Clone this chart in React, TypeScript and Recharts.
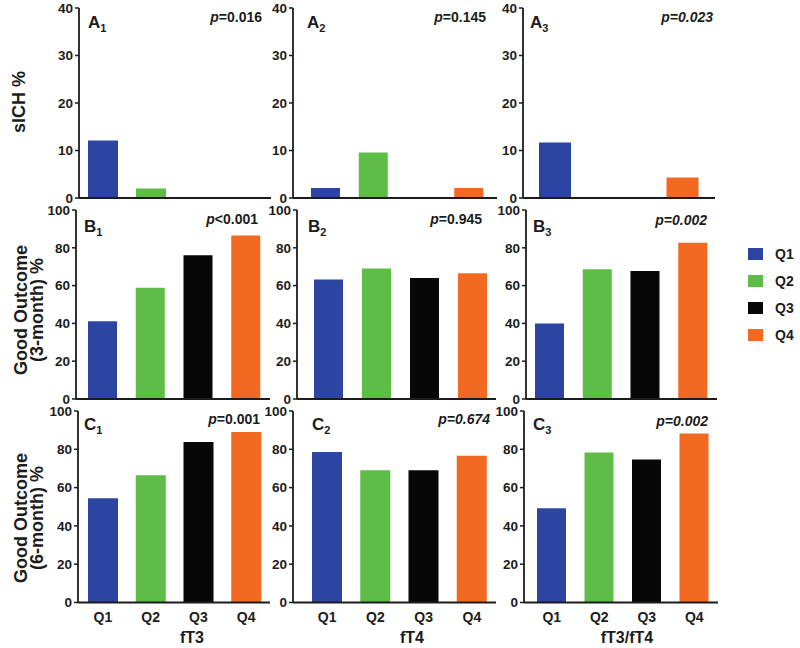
import React from 'react'
import { BarChart, Bar, XAxis, YAxis, Cell } from 'recharts'

// quartile labels and colours
const quartiles = ['Q1', 'Q2', 'Q3', 'Q4']
const quartileColors = ['#2c45a2', '#5dbd47', '#070707', '#f26a21']

// sICH %
const sichFT3 = [12.1, 2.0, 0, 0]
const sichFT4 = [2.1, 9.6, 0, 2.1]
const sichRatio = [11.7, 0, 0, 4.3]

// good outcome 3-month %
const good3FT3 = [41.2, 58.8, 76.0, 86.5]
const good3FT4 = [63.2, 69.0, 64.0, 66.6]
const good3Ratio = [40.0, 68.6, 67.7, 82.7]

// good outcome 6-month %
const good6FT3 = [54.4, 66.5, 83.8, 89.0]
const good6FT4 = [78.6, 69.1, 69.1, 76.6]
const good6Ratio = [49.2, 78.3, 74.7, 88.2]

const sichTicks = [0, 10, 20, 30, 40]
const pctTicks = [0, 20, 40, 60, 80, 100]

const pLabels = ['p=0.016', 'p=0.145', 'p=0.023', 'p<0.001', 'p=0.945', 'p=0.002', 'p=0.001', 'p=0.674', 'p=0.002']
const panelLetters = ['A', 'B', 'C']
const xTitles = ['fT3', 'fT4', 'fT3/fT4']

const FONT = '"Liberation Sans", Arial, sans-serif'
const INK = '#1c1c1c'

interface PanelProps {
  values: number[]
  axisX: number
  endX: number
  yTop: number
  yBottom: number
  max: number
  ticks: number[]
  padL: number
  padR: number
  barSize: number
  bottomRow?: boolean
}

function Panel({ values, axisX, endX, yTop, yBottom, max, ticks, padL, padR, barSize, bottomRow }: PanelProps) {
  const yw = 45
  const mt = 8
  // extra room under rows A and B so the "0" label is not clipped
  const mb = bottomRow ? 2 : 9
  const xh = bottomRow ? 40 : 1
  const left = axisX - yw
  const top = yTop - mt
  const height = yBottom - yTop + mt + xh + mb
  const width = endX - left + 2
  const data = quartiles.map((q, i) => ({ q, v: values[i] }))

  return (
    <div style={{ position: 'absolute', left, top }}>
      <BarChart width={width} height={height} data={data} margin={{ top: mt, right: 2, left: 0, bottom: mb }} barSize={barSize}>
        <XAxis
          dataKey="q"
          interval={0}
          padding={{ left: padL, right: padR }}
          axisLine={{ stroke: INK, strokeWidth: 1.8 }}
          tickLine={false}
          tickSize={4}
          tickMargin={6}
          height={xh}
          tick={bottomRow ? { fill: INK, fontSize: 14, fontWeight: 700, fontFamily: FONT } : false}
        />
        <YAxis
          width={yw}
          domain={[0, max]}
          ticks={ticks}
          interval={0}
          axisLine={{ stroke: INK, strokeWidth: 1.8 }}
          tickLine={{ stroke: INK, strokeWidth: 1.5 }}
          tickSize={4}
          tickMargin={2}
          tick={{ fill: INK, fontSize: 13.5, fontWeight: 700, fontFamily: FONT }}
        />
        <Bar dataKey="v" isAnimationActive={false}>
          {data.map((d, i) => (
            <Cell key={d.q} fill={quartileColors[i]} />
          ))}
        </Bar>
      </BarChart>
    </div>
  )
}

export default function App() {
  // row geometry: y of top tick and of the x axis
  const rowA = { yTop: 8, yBottom: 198 }
  const rowB = { yTop: 210, yBottom: 399 }
  const rowC = { yTop: 411, yBottom: 602.5 }

  const labelPos = [
    [88, 28], [307, 28], [530, 28],
    [84, 232], [308, 232], [533, 232],
    [84, 430], [312, 430], [533, 430],
  ]
  const pPos = [
    [262, 22], [486, 22], [713, 22],
    [258, 224], [482, 224], [707, 225],
    [260, 424], [490, 424], [708, 426],
  ]
  const pItalic = [false, false, true, false, false, true, false, true, true]
  const xTitleX = [192, 412, 627]

  return (
    <div style={{ position: 'absolute', left: 0, top: 0, width: 800, height: 648, background: '#fff', fontFamily: FONT }}>
      <Panel values={sichFT3} axisX={79} endX={271} {...rowA} max={40} ticks={sichTicks} padL={0} padR={0} barSize={30} />
      <Panel values={sichFT4} axisX={293} endX={497} {...rowA} max={40} ticks={sichTicks} padL={9} padR={4} barSize={29} />
      <Panel values={sichRatio} axisX={523} endX={715} {...rowA} max={40} ticks={sichTicks} padL={11} padR={11} barSize={32} />

      <Panel values={good3FT3} axisX={76} endX={270} {...rowB} max={100} ticks={pctTicks} padL={3} padR={0} barSize={29} />
      <Panel values={good3FT4} axisX={297} endX={496} {...rowB} max={100} ticks={pctTicks} padL={7} padR={0} barSize={29} />
      <Panel values={good3Ratio} axisX={526} endX={717} {...rowB} max={100} ticks={pctTicks} padL={0} padR={0} barSize={29} />

      <Panel values={good6FT3} axisX={78} endX={270} {...rowC} max={100} ticks={pctTicks} padL={1} padR={0} barSize={30} bottomRow />
      <Panel values={good6FT4} axisX={293} endX={496} {...rowC} max={100} ticks={pctTicks} padL={10} padR={0} barSize={30} bottomRow />
      <Panel values={good6Ratio} axisX={524} endX={718} {...rowC} max={100} ticks={pctTicks} padL={4} padR={0} barSize={29} bottomRow />

      <svg width={800} height={648} style={{ position: 'absolute', left: 0, top: 0, pointerEvents: 'none' }}>
        <g fill={INK} fontFamily={FONT} fontWeight={700}>
          {labelPos.map(([x, y], i) => (
            <text key={'l' + i} x={x} y={y} fontSize={17}>
              {panelLetters[Math.floor(i / 3)]}
              <tspan fontSize={11} dy={4}>{(i % 3) + 1}</tspan>
            </text>
          ))}
          {pPos.map(([x, y], i) => (
            <text key={'p' + i} x={x} y={y} fontSize={14} textAnchor="end" fontStyle={pItalic[i] ? 'italic' : 'normal'}>
              <tspan fontStyle="italic">{pLabels[i].slice(0, 1)}</tspan>
              {pLabels[i].slice(1)}
            </text>
          ))}

          <text transform="translate(25,102) rotate(-90)" fontSize={18} textAnchor="middle">sICH %</text>
          <text transform="translate(27,310) rotate(-90)" fontSize={18} textAnchor="middle">Good Outcome</text>
          <text transform="translate(43,310) rotate(-90)" fontSize={18} textAnchor="middle">(3-month) %</text>
          <text transform="translate(27,518) rotate(-90)" fontSize={18} textAnchor="middle">Good Outcome</text>
          <text transform="translate(43,518) rotate(-90)" fontSize={18} textAnchor="middle">(6-month) %</text>

          {xTitles.map((t, i) => (
            <text key={t} x={xTitleX[i]} y={643} fontSize={16} textAnchor="middle">{t}</text>
          ))}

          {quartiles.map((q, i) => {
            const cy = 254 + i * 27
            return (
              <g key={q}>
                <rect x={748} y={cy - 6} width={15} height={12} fill={quartileColors[i]} />
                <text x={775} y={cy + 5} fontSize={14}>{q}</text>
              </g>
            )
          })}
        </g>
      </svg>
    </div>
  )
}
